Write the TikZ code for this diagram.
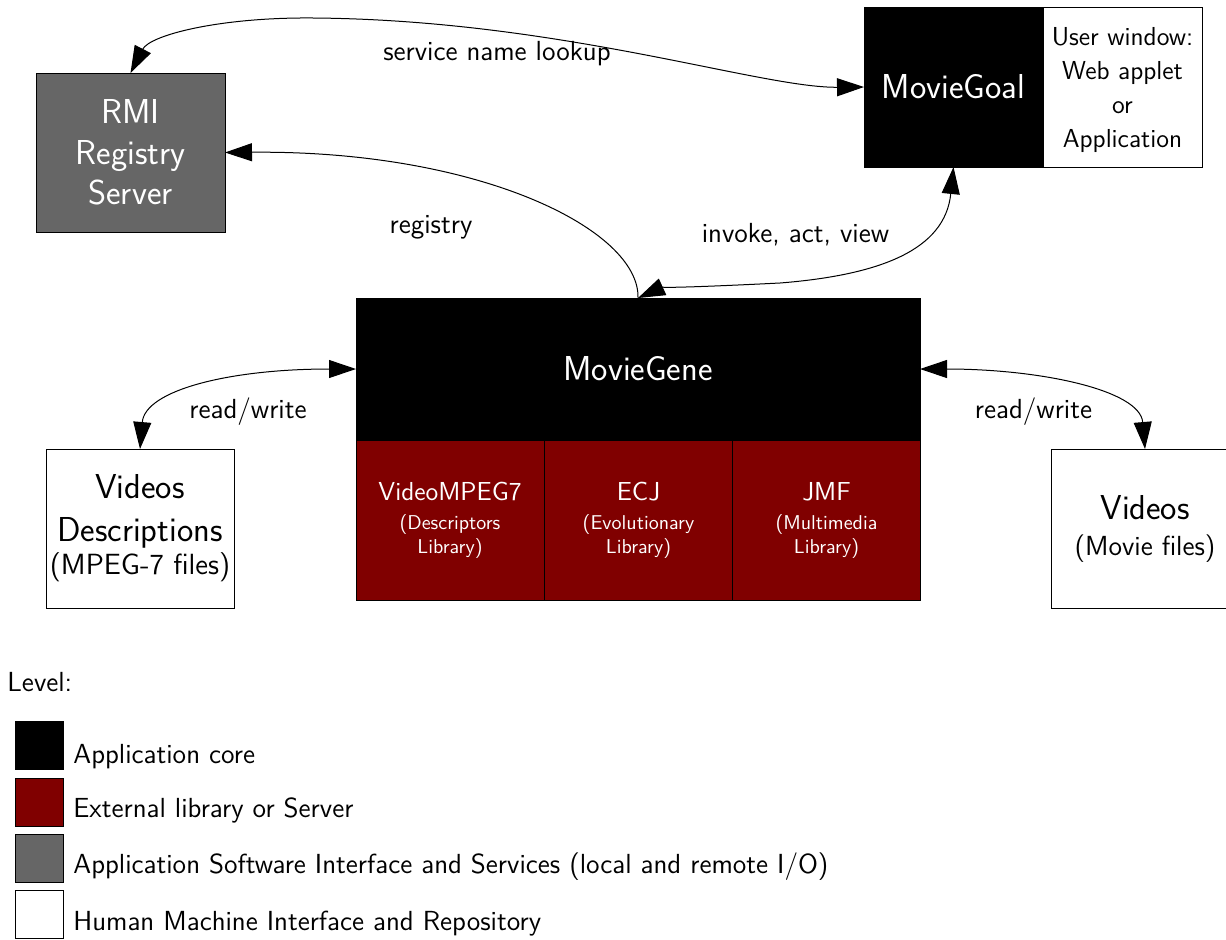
\documentclass[tikz,border=0pt]{standalone}
\usetikzlibrary{arrows.meta}
\renewcommand{\familydefault}{\sfdefault}
\definecolor{boxgray}{RGB}{102,102,102}
\definecolor{libred}{RGB}{128,0,0}
\newcommand{\subsz}{\fontsize{13.8}{16}\selectfont}
\newcommand{\descsub}{\fontsize{14.6}{16}\selectfont}
\newcommand{\libsz}{\fontsize{10}{12}\selectfont}
\begin{document}
\begin{tikzpicture}[x=0.5pt,y=-0.5pt,
  box/.style={rectangle, draw=black, line width=0.5pt, inner sep=0pt, outer sep=0pt, align=center},
  bigtext/.style={font=\fontsize{17.3}{20.3}\selectfont},
  libbox/.style={box, fill=libred, text=white, minimum width=94pt, minimum height=80pt, font=\fontsize{13}{12}\selectfont},
  legbox/.style={rectangle, draw=black, line width=0.5pt, inner sep=0pt, outer sep=0pt, minimum size=24pt},
  conn/.style={line width=0.5pt, {Triangle[length=13.5pt,width=9pt]}-{Triangle[length=13.5pt,width=9pt]}},
  oneway/.style={line width=0.5pt, -{Triangle[length=13.5pt,width=9pt]}},
  lbl/.style={font=\fontsize{13.8}{16}\selectfont, anchor=base, inner sep=0pt}]
\useasboundingbox (0,0) rectangle (1226,939);

% main boxes
\node[box, bigtext, fill=boxgray, text=white, minimum width=94.5pt, minimum height=79.5pt] (rmi) at (130.5,152.5) {RMI\\Registry\\Server};
\node[box, bigtext, fill=black, text=white, minimum width=89.5pt, minimum height=80pt] (goal) at (953.5,87) {MovieGoal};
\node[box, fill=white, font=\fontsize{13}{17}\selectfont, minimum width=79.5pt, minimum height=80pt] (win) at (1122.5,87) {\rule{0pt}{12pt}User window:\\Web applet\\or\\Application};
\node[box, bigtext, fill=black, text=white, minimum width=282pt, minimum height=71pt] (gene) at (638,369) {MovieGene};
\node[libbox] (lib1) at (450,520) {VideoMPEG7\\[2.5pt]\libsz (Descriptors\\\libsz Library)};
\node[libbox] (lib2) at (638.5,520) {ECJ\\[2.5pt]\libsz (Evolutionary\\\libsz Library)};
\node[libbox] (lib3) at (826.5,520) {JMF\\[2.5pt]\libsz (Multimedia\\\libsz Library)};
\node[box, fill=white, font=\fontsize{17.3}{21.5}\selectfont, minimum width=94pt, minimum height=79.5pt] (desc) at (140,528.5) {Videos\\Descriptions\\[-5pt]\descsub (MPEG-7 files)};
\node[box, fill=white, font=\fontsize{17.3}{21.5}\selectfont, minimum width=94pt, minimum height=79.5pt] (vid) at (1145,528.5) {Videos\\[-3.5pt]\subsz (Movie files)};

% connectors
\draw[conn] (goal.west) .. controls (760,88) and (560,20) .. (314,18) .. controls (220,17) and (150,35) .. (rmi.north);
\draw[oneway] (gene.north) .. controls (640,230) and (480,150) .. (rmi.east);
\draw[conn] (goal.south) .. controls (945,250) and (880,275) .. (780,283) .. controls (700,287) and (660,288) .. (gene.north);
\draw[conn] (gene.west) .. controls (230,369) and (145,390) .. (desc.north);
\draw[conn] (gene.east) .. controls (1040,369) and (1140,390) .. (vid.north);

% labels
\node[lbl] (l1) at (497,60) {service name lookup};
\node[lbl] (l2) at (431,233) {registry};
\node[lbl] (l3) at (795.5,242) {invoke, act, view};
\node[lbl] (l4) at (248,418) {read/write};
\node[lbl] (l5) at (1033.5,418) {read/write};

% legend
\node[lbl, anchor=base west] (lv) at (7,691) {Level:};
\node[legbox, fill=black] (k1) at (39,745) {};
\node[legbox, fill=libred] (k2) at (39,802) {};
\node[legbox, fill=boxgray] (k3) at (39,858.5) {};
\node[legbox, fill=white] (k4) at (39,914.5) {};
\node[lbl, anchor=base west] (t1) at (73,763.3) {Application core};
\node[lbl, anchor=base west] (t2) at (73,817) {External library or Server};
\node[lbl, anchor=base west] (t3) at (73,873) {Application Software Interface and Services (local and remote I/O)};
\node[lbl, anchor=base west] (t4) at (73,930) {Human Machine Interface and Repository};
\end{tikzpicture}
\end{document}
